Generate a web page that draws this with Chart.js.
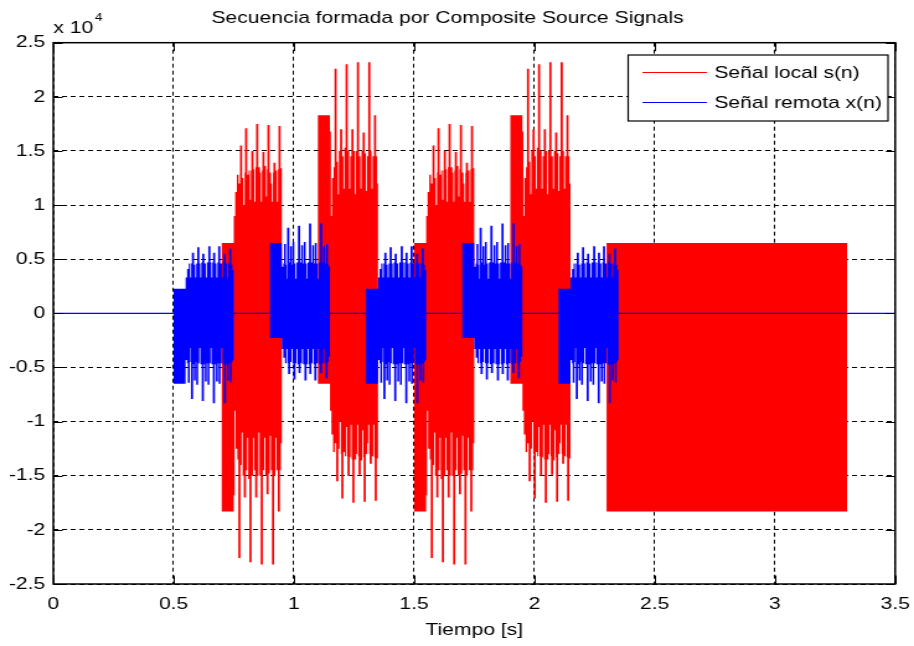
<!DOCTYPE html>
<html>
<head>
<meta charset="utf-8">
<title>Secuencia formada por Composite Source Signals</title>
<script src="https://cdn.jsdelivr.net/npm/chart.js@4.4.1/dist/chart.umd.min.js"></script>
<style>
  html, body { margin: 0; padding: 0; background: #fff; overflow: hidden; }
  /* the reference figure is stretched sideways: draw narrow, then widen */
  #wrap { width: 737px; height: 646px; transform: scaleX(1.2402); transform-origin: 0 0; }
</style>
</head>
<body>
<div id="wrap"><canvas id="cssChart" width="737" height="646"></canvas></div>
<script>
// ============================================================
// CSS SEQUENCE — local / remote signal envelopes
// ============================================================

// ── Axis ticks ───────────────────────────────────────────
const X_TICKS       = [0, 0.5, 1, 1.5, 2, 2.5, 3, 3.5];
const X_TICK_LABELS = ['0', '0.5', '1', '1.5', '2', '2.5', '3', '3.5'];
const Y_TICKS       = [-25000, -20000, -15000, -10000, -5000, 0, 5000, 10000, 15000, 20000, 25000];
const Y_TICK_LABELS = ['-2.5', '-2', '-1.5', '-1', '-0.5', '0', '0.5', '1', '1.5', '2', '2.5'];

const TITLE        = 'Secuencia formada por Composite Source Signals';
const X_TITLE      = 'Tiempo [s]';
const SERIES_NAMES = ['Señal local s(n)', 'Señal remota x(n)'];

// ── Timing (seconds) ─────────────────────────────────────
const SIGNAL_SPAN = [0, 3.5];
const BLOCK_LEN   = 0.05;   // flat noise block opening each burst
const VOICED_LEN  = 0.2;    // voiced stretch after the block

// local s(n): burst starts, polarity, block levels [upper, lower], final noise block
const LOCAL_STARTS = [0.70, 1.10, 1.50, 1.90];
const LOCAL_SIGNS  = [1, -1, 1, -1];
const LOCAL_BLOCK  = [6500, -18300];
const LOCAL_TAIL   = [2.30, 3.30];

// remote x(n)
const REMOTE_STARTS = [0.50, 0.90, 1.30, 1.70, 2.10];
const REMOTE_SIGNS  = [1, -1, 1, -1, 1];
const REMOTE_BLOCK  = [2270, -6500];

// voiced envelopes of a positive burst: [time from voiced start, amplitude]
const LOCAL_VOICED_UP = [
  [0.000,  9000], [0.006, 11200], [0.013, 12800], [0.020, 12000], [0.026, 15500],
  [0.035, 12500], [0.040, 10000], [0.045, 13000], [0.047, 17100], [0.056, 12800],
  [0.062, 13200], [0.067, 10500], [0.071, 13200], [0.073, 15000], [0.082, 13300],
  [0.086, 10300], [0.090, 13500], [0.093, 17500], [0.102, 13500], [0.109, 13000],
  [0.113, 10300], [0.117, 13200], [0.119, 14900], [0.128, 13600], [0.134, 10800],
  [0.138, 13300], [0.140, 17400], [0.149, 13000], [0.155, 12000], [0.159, 10300],
  [0.163, 13000], [0.165, 13900], [0.174, 13200], [0.180, 10300], [0.184, 13300],
  [0.186, 17300], [0.195, 13400]
];
const LOCAL_VOICED_DOWN = [
  [0.000, -16800], [0.004,  -9000], [0.008, -12500], [0.015, -13500], [0.019, -22600],
  [0.028, -14000], [0.033, -11000], [0.037, -15000], [0.042, -17000], [0.051, -14500],
  [0.056, -11500], [0.060, -15300], [0.065, -23000], [0.074, -15000], [0.080, -11500],
  [0.084, -14500], [0.089, -17000], [0.098, -15000], [0.103, -11000], [0.107, -15000],
  [0.112, -23200], [0.121, -14500], [0.127, -11500], [0.131, -15000], [0.136, -16700],
  [0.145, -14800], [0.150, -11300], [0.154, -14500], [0.159, -23200], [0.168, -15000],
  [0.173, -11500], [0.177, -14500], [0.183, -18300], [0.192, -14500], [0.196, -12000]
];
const REMOTE_VOICED_UP = [
  [0.000, 3300], [0.006, 4100], [0.013, 4600], [0.019, 3300], [0.023, 4600],
  [0.026, 5600], [0.035, 4500], [0.040, 3300], [0.044, 4600], [0.048, 6100],
  [0.057, 4600], [0.061, 3300], [0.065, 4700], [0.069, 5500], [0.078, 4600],
  [0.084, 3300], [0.088, 4700], [0.094, 6200], [0.103, 4700], [0.107, 3300],
  [0.111, 4700], [0.114, 5600], [0.123, 4600], [0.128, 3300], [0.132, 4700],
  [0.135, 6200], [0.144, 4600], [0.151, 3300], [0.155, 4700], [0.158, 5500],
  [0.167, 4600], [0.173, 3300], [0.177, 4600], [0.181, 6000], [0.190, 4500],
  [0.195, 4000]
];
const REMOTE_VOICED_DOWN = [
  [0.000, -4300], [0.006, -4600], [0.009, -6400], [0.017, -4500], [0.020, -3200],
  [0.022, -7900], [0.031, -4700], [0.034, -6200], [0.042, -4500], [0.044, -6600],
  [0.052, -4600], [0.057, -3200], [0.061, -4700], [0.067, -8100], [0.076, -4700],
  [0.080, -6300], [0.088, -4600], [0.091, -6600], [0.099, -4600], [0.104, -3200],
  [0.107, -4700], [0.113, -8300], [0.122, -4700], [0.126, -6300], [0.134, -4600],
  [0.137, -6500], [0.145, -4600], [0.150, -3200], [0.154, -4700], [0.159, -8300],
  [0.168, -4700], [0.172, -6200], [0.180, -4600], [0.184, -6400], [0.192, -4500],
  [0.196, -4300]
];

// ── Styling ──────────────────────────────────────────────
const FONT         = "'Liberation Sans', Arial, sans-serif";
const LOCAL_COLOR  = '#ff0000';
const REMOTE_COLOR = '#0000ff';

Chart.defaults.font.family = FONT;
Chart.defaults.color = '#000';

// ── Envelope edge (side 0 = upper, 1 = lower) as step points ─
function edge(starts, signs, block, up, down, side, tail) {
  const pts = [{ x: SIGNAL_SPAN[0], y: 0 }];
  starts.forEach((t0, i) => {
    const s = signs[i];
    const lvl = s > 0 ? block[side] : -block[1 - side];
    const steps = (s > 0) === (side === 0) ? up : down;
    const tv = t0 + BLOCK_LEN;
    pts.push({ x: t0, y: lvl });
    steps.forEach(([dt, v]) => pts.push({ x: tv + dt, y: s * v }));
    pts.push({ x: tv + VOICED_LEN, y: 0 });
  });
  if (tail) {
    pts.push({ x: tail[0], y: block[side] });
    pts.push({ x: tail[1], y: 0 });
  }
  pts.push({ x: SIGNAL_SPAN[1], y: 0 });
  return pts;
}

function envelopeSet(label, color, pts, order) {
  return {
    label, data: pts, stepped: 'before', fill: 'origin',
    backgroundColor: color, borderColor: color, borderWidth: 0,
    pointRadius: 0, order
  };
}

const datasets = [
  envelopeSet(SERIES_NAMES[0], LOCAL_COLOR,
    edge(LOCAL_STARTS, LOCAL_SIGNS, LOCAL_BLOCK, LOCAL_VOICED_UP, LOCAL_VOICED_DOWN, 0, LOCAL_TAIL), 2),
  envelopeSet(SERIES_NAMES[0], LOCAL_COLOR,
    edge(LOCAL_STARTS, LOCAL_SIGNS, LOCAL_BLOCK, LOCAL_VOICED_UP, LOCAL_VOICED_DOWN, 1, LOCAL_TAIL), 2),
  envelopeSet(SERIES_NAMES[1], REMOTE_COLOR,
    edge(REMOTE_STARTS, REMOTE_SIGNS, REMOTE_BLOCK, REMOTE_VOICED_UP, REMOTE_VOICED_DOWN, 0), 1),
  envelopeSet(SERIES_NAMES[1], REMOTE_COLOR,
    edge(REMOTE_STARTS, REMOTE_SIGNS, REMOTE_BLOCK, REMOTE_VOICED_UP, REMOTE_VOICED_DOWN, 1), 1),
  {
    // silent stretches of x(n) show as a thin line on zero
    label: SERIES_NAMES[1],
    data: SIGNAL_SPAN.map(t => ({ x: t, y: 0 })),
    borderColor: REMOTE_COLOR, borderWidth: 1.2, pointRadius: 0, fill: false, order: 0
  }
];

// ── Frame, inward ticks, exponent and legend ─────────────
const matlabDecor = {
  id: 'matlabDecor',
  afterDatasetsDraw(chart) {
    const { ctx, chartArea: a, scales: { x, y } } = chart;
    ctx.save();
    ctx.strokeStyle = '#000';
    ctx.lineWidth = 1;
    ctx.beginPath();
    X_TICKS.forEach(v => {
      const px = Math.round(x.getPixelForValue(v)) + 0.5;
      ctx.moveTo(px, a.bottom); ctx.lineTo(px, a.bottom - 8.5);
      ctx.moveTo(px, a.top);    ctx.lineTo(px, a.top + 8.5);
    });
    Y_TICKS.forEach(v => {
      const py = Math.round(y.getPixelForValue(v)) + 0.5;
      ctx.moveTo(a.left, py);  ctx.lineTo(a.left + 7.5, py);
      ctx.moveTo(a.right, py); ctx.lineTo(a.right - 7.5, py);
    });
    ctx.stroke();
    ctx.lineWidth = 1.5;
    ctx.strokeRect(a.left, a.top, a.right - a.left, a.bottom - a.top);
    ctx.restore();
  },
  afterDraw(chart) {
    const { ctx, chartArea: a } = chart;
    ctx.save();
    ctx.fillStyle = '#000';
    ctx.textBaseline = 'alphabetic';
    ctx.font = `17px ${FONT}`;
    ctx.fillText('x 10', a.left, 33);
    ctx.font = `11px ${FONT}`;
    ctx.fillText('4', a.left + 33.6, 21);

    // legend box, top right inside the axes
    const bw = 209.5, bh = 66;
    const bx = a.right - 5.8 - bw, by = a.top + 12.3;
    ctx.fillStyle = '#fff';
    ctx.fillRect(bx, by, bw, bh);
    ctx.strokeStyle = '#000';
    ctx.lineWidth = 1.2;
    ctx.strokeRect(bx, by, bw, bh);
    const rows = [[SERIES_NAMES[0], LOCAL_COLOR, 17.5], [SERIES_NAMES[1], REMOTE_COLOR, 47.5]];
    ctx.font = `17px ${FONT}`;
    ctx.textBaseline = 'middle';
    ctx.lineWidth = 1;
    rows.forEach(([name, color, dy]) => {
      ctx.strokeStyle = color;
      ctx.beginPath();
      ctx.moveTo(bx + 11.5, by + dy);
      ctx.lineTo(bx + 63.5, by + dy);
      ctx.stroke();
      ctx.fillStyle = '#000';
      ctx.fillText(name, bx + 69.5, by + dy + 0.5);
    });
    ctx.restore();
  }
};

// ── Chart ────────────────────────────────────────────────
const tickFont = { family: FONT, size: 17 };

new Chart(document.getElementById('cssChart'), {
  type: 'line',
  data: { datasets },
  options: {
    responsive: false,
    animation: false,
    events: [],
    layout: { padding: { left: 0, right: 15.2, top: 0, bottom: 0 } },
    plugins: {
      legend: { display: false },
      tooltip: { enabled: false },
      title: {
        display: true, text: TITLE, color: '#000',
        font: { family: FONT, size: 17, weight: 'normal' },
        padding: { top: 8, bottom: 14.3 }
      }
    },
    scales: {
      x: {
        type: 'linear', min: 0, max: 3.5,
        afterBuildTicks: (axis) => { axis.ticks = X_TICKS.map(v => ({ value: v })); },
        afterFit: (axis) => {
          axis.height = 62;
          // edge labels may hang out; keep the axes box where the figure has it
          axis.paddingLeft = 0;
          axis.paddingRight = 0;
        },
        ticks: {
          callback: (v, i) => X_TICK_LABELS[i],
          font: tickFont, color: '#000', padding: 10,
          autoSkip: false, maxRotation: 0, minRotation: 0
        },
        grid: { color: '#000', lineWidth: 1, drawTicks: false },
        border: { display: false, dash: [4, 3] },
        title: {
          display: true, text: X_TITLE, color: '#000',
          font: { family: FONT, size: 17 }, padding: { top: 0, bottom: 5 }
        }
      },
      y: {
        type: 'linear', min: -25000, max: 25000,
        afterBuildTicks: (axis) => { axis.ticks = Y_TICKS.map(v => ({ value: v })); },
        afterFit: (axis) => {
          axis.width = 43;
          axis.paddingTop = 0;
          axis.paddingBottom = 0;
        },
        ticks: {
          callback: (v, i) => Y_TICK_LABELS[i],
          font: tickFont, color: '#000', padding: 6.5, autoSkip: false
        },
        grid: { color: '#000', lineWidth: 1, drawTicks: false },
        border: { display: false, dash: [4, 3] }
      }
    }
  },
  plugins: [matlabDecor]
});
</script>
</body>
</html>
